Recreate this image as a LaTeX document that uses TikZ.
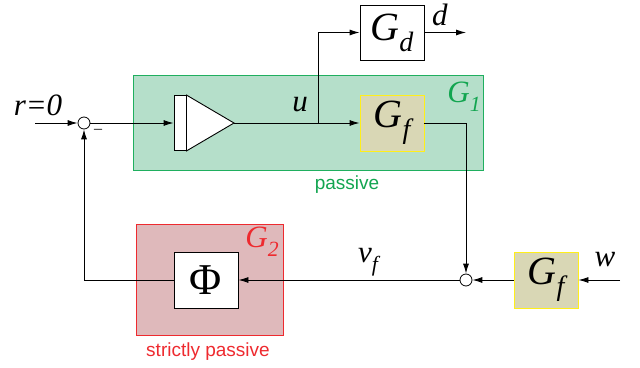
\documentclass[tikz,border=0pt]{standalone}
\usepackage{graphicx}
\usepackage{fontspec}
\setmainfont{Liberation Serif}
\newfontfamily\labelsans{Liberation Sans}
\usetikzlibrary{positioning,calc,arrows.meta}
\definecolor{gonefill}{HTML}{B5DFCA}
\definecolor{goneline}{HTML}{1FAF5F}
\definecolor{gonetext}{HTML}{12A550}
\definecolor{gtwofill}{HTML}{DFB9BB}
\definecolor{gtwoline}{HTML}{EE2A2F}
\definecolor{filtfill}{HTML}{D9D7B5}
\definecolor{filtline}{HTML}{FFEF1A}
\newcommand{\sym}[2]{\textit{#1}\raisebox{-0.28em}{\scalebox{0.7}{\itshape #2}}}
\tikzset{
  block/.style={draw=black, fill=white, minimum width=64pt, minimum height=56pt, inner sep=0pt,
                font=\fontsize{40}{40}\selectfont, line width=0.9pt},
  filt/.style={block, draw=filtline, fill=filtfill},
  group/.style={draw=#1line, fill=#1fill, line width=1pt, inner sep=0pt},
  sumj/.style={circle, draw, fill=white, minimum size=12pt, inner sep=0pt, line width=0.8pt},
  sig/.style={-{Latex[length=10pt,width=6pt]}, line width=0.9pt},
  wire/.style={line width=0.9pt},
  lbl/.style={font=\fontsize{31}{31}\selectfont},
  note/.style={font=\labelsans\fontsize{19}{19}\selectfont},
}
\begin{document}
\begin{tikzpicture}[x=1pt, y=-1pt]
  \useasboundingbox (0,0) rectangle (640,367);
  % Groups
  \node[group=gone, minimum width=350pt, minimum height=95pt] (g1) at (308,122.5) {};
  \node[group=gtwo, minimum width=147pt, minimum height=111pt] (g2) at (209.5,279.5) {};
  \node[lbl, text=gonetext] (g1lbl) at (464,97) {\sym{G}{1}};
  \node[lbl, text=gtwoline] (g2lbl) at (262,242) {\sym{G}{2}};
  \node[note, text=gonetext] (pas) at (347,185) {passive};
  \node[note, text=gtwoline] (spas) at (208,352) {strictly passive};
  % Blocks
  \node[sumj] (s1) at (84,123) {};
  \node[sumj] (s2) at (466,280) {};
  \node[draw, fill=white, wire, minimum width=12pt, minimum height=55pt, inner sep=0pt] (amp) at (180,123) {};
  \draw[wire, fill=white] (amp.north east) -- (234,123) coordinate (amptip) -- (amp.south east) -- cycle;
  \node[block, minimum height=55pt] (gd) at (392,32.5) {\sym{G}{d}};
  \node[filt] (gf1) at (392,123) {\sym{G}{f}};
  \node[filt] (gf2) at (546,280) {\sym{G}{f}};
  \node[block, font=\fontsize{44}{44}\selectfont] (phi) at (206,280) {Φ};
  \coordinate (rin) at (35,123);
  \coordinate (win) at (620,280);
  \coordinate (dout) at (466,32.5);
  \coordinate (br) at (318,123);
  % Signals
  \draw[sig] (rin) -- (s1);
  \draw[sig] (s1) -- (amp);
  \draw[wire] (amptip) -- (br);
  \draw[sig] (br) -- (gf1);
  \draw[sig] (br) |- (gd);
  \draw[sig] (gd) -- (dout);
  \draw[sig] (gf1) -| (s2);
  \draw[sig] (win) -- (gf2);
  \draw[sig] (gf2) -- (s2);
  \draw[sig] (s2) -- (phi);
  \draw[sig] (phi) -| (s1);
  % Labels
  \node[lbl] (rlbl) at (38,105) {\itshape r=0};
  \node[font=\fontsize{16}{16}\selectfont] (minus) at (98,131) {–};
  \node[lbl] (ulbl) at (300,105) {\textit{u}};
  \node[lbl] (dlbl) at (440,15) {\textit{d}};
  \node[lbl] (wlbl) at (605,260) {\textit{w}};
  \node[lbl] (vlbl) at (368,262) {\sym{v}{f}};
\end{tikzpicture}
\end{document}
